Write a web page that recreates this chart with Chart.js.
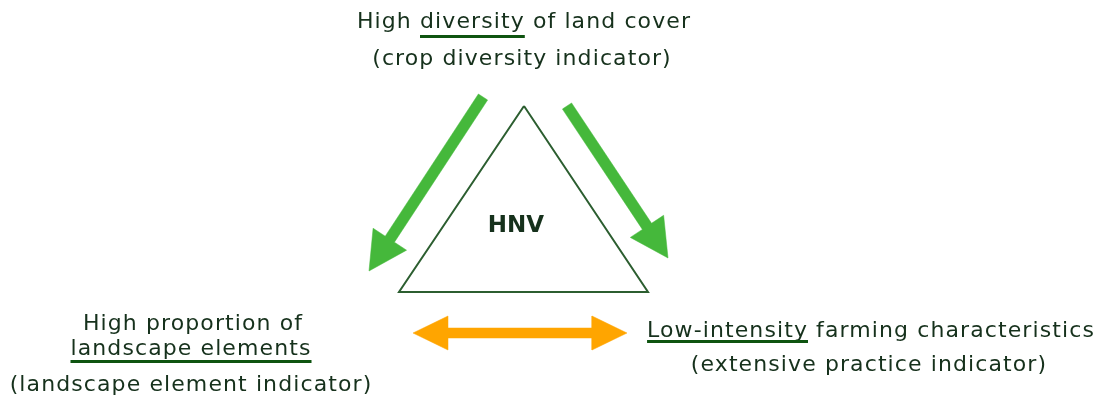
<!DOCTYPE html>
<html>
<head>
<meta charset="utf-8">
<script src="https://cdn.jsdelivr.net/npm/chart.js@4.4.0/dist/chart.umd.min.js"></script>
<style>
  html, body { margin: 0; padding: 0; background: #ffffff; }
  #wrap { width: 1102px; height: 400px; position: relative; }
</style>
</head>
<body>
<div id="wrap"><canvas id="c"></canvas></div>
<script>
// ---- data (diagram geometry) ----
const triangleX = [524, 399, 648, 524];
const triangleY = [106, 292, 292, 106];
const greenArrowTailX = [483, 567];
const greenArrowTailY = [97, 106];
const greenArrowTipX = [369, 668];
const greenArrowTipY = [271, 258];
const orangeArrowX = [413, 627];
const orangeArrowY = [333, 333];
const topLines = ['High diversity of land cover', '(crop diversity indicator)'];
const leftLines = ['High proportion of', 'landscape elements', '(landscape element indicator)'];
const rightLines = ['Low-intensity farming characteristics', '(extensive practice indicator)'];
const topUnderline = ['diversity', null];
const leftUnderline = [null, 'landscape elements', null];
const rightUnderline = ['Low-intensity', null];
const centerLabel = 'HNV';

// ---- helpers ----
function arrowPolygon(x0, y0, x1, y1, shaft, headW, headL, doubleHead) {
  const dx = x1 - x0, dy = y1 - y0;
  const len = Math.hypot(dx, dy);
  const ux = dx / len, uy = dy / len;
  const px = -uy, py = ux;
  const s = shaft / 2, h = headW / 2;
  const pts = [];
  const P = (t, o) => ({ x: x0 + ux * t + px * o, y: y0 + uy * t + py * o });
  if (doubleHead) {
    pts.push(P(0, 0), P(headL, h), P(headL, s), P(len - headL, s), P(len - headL, h), P(len, 0),
             P(len - headL, -h), P(len - headL, -s), P(headL, -s), P(headL, -h), P(0, 0));
  } else {
    pts.push(P(0, s), P(len - headL, s), P(len - headL, h), P(len, 0),
             P(len - headL, -h), P(len - headL, -s), P(0, -s), P(0, s));
  }
  return pts;
}

const green = '#45b83b';
const orange = '#ffa500';
const lineGreen = '#2c5e30';
const textColor = '#16311c';
const ulColor = '#0e5410';

const datasets = [];
datasets.push({
  label: 'triangle',
  data: triangleX.map((x, i) => ({ x: x, y: triangleY[i] })),
  borderColor: lineGreen, borderWidth: 2, pointRadius: 0, fill: false, tension: 0,
  borderJoinStyle: 'miter'
});
for (let i = 0; i < greenArrowTailX.length; i++) {
  datasets.push({
    label: 'green' + i,
    data: arrowPolygon(greenArrowTailX[i], greenArrowTailY[i], greenArrowTipX[i], greenArrowTipY[i], 11, 40, 38, false),
    borderColor: green, borderWidth: 0.5, backgroundColor: green, pointRadius: 0, fill: 'shape', tension: 0
  });
}
datasets.push({
  label: 'orange',
  data: arrowPolygon(orangeArrowX[0], orangeArrowY[0], orangeArrowX[1], orangeArrowY[1], 10, 34, 35, true),
  borderColor: orange, borderWidth: 0.5, backgroundColor: orange, pointRadius: 0, fill: 'shape', tension: 0
});

const textPlugin = {
  id: 'texts',
  afterDatasetsDraw(chart) {
    const ctx = chart.ctx;
    const xs = chart.scales.x, ys = chart.scales.y;
    const font = '22px "DejaVu Sans", Verdana, sans-serif';
    function drawLine(str, word, cx, by, ulOff) {
      const px = xs.getPixelForValue(cx), py = ys.getPixelForValue(by);
      ctx.save();
      ctx.font = font;
      if ('letterSpacing' in ctx) ctx.letterSpacing = '1.1px';
      ctx.fillStyle = textColor;
      ctx.textBaseline = 'alphabetic';
      const w = ctx.measureText(str).width;
      const left = px - w / 2;
      ctx.textAlign = 'left';
      ctx.fillText(str, left, py);
      if (word) {
        const idx = str.indexOf(word);
        const pre = ctx.measureText(str.slice(0, idx)).width;
        const ww = ctx.measureText(word).width;
        ctx.fillStyle = ulColor;
        ctx.fillRect(left + pre, py + ulOff, ww, 3);
      }
      ctx.restore();
    }
    drawLine(topLines[0], topUnderline[0], 524, 28, 7);
    drawLine(topLines[1], topUnderline[1], 522, 65, 6);
    drawLine(leftLines[0], leftUnderline[0], 193, 330, 6);
    drawLine(leftLines[1], leftUnderline[1], 191, 355, 5);
    drawLine(leftLines[2], leftUnderline[2], 191, 391, 6);
    drawLine(rightLines[0], rightUnderline[0], 871, 337, 3);
    drawLine(rightLines[1], rightUnderline[1], 869, 371, 6);
    ctx.save();
    ctx.font = 'bold 23px "DejaVu Sans", Verdana, sans-serif';
    ctx.fillStyle = textColor;
    ctx.textAlign = 'center';
    ctx.textBaseline = 'alphabetic';
    ctx.fillText(centerLabel, xs.getPixelForValue(516), ys.getPixelForValue(232));
    ctx.restore();
  }
};

new Chart(document.getElementById('c'), {
  type: 'line',
  data: { datasets: datasets },
  options: {
    responsive: true,
    maintainAspectRatio: false,
    animation: false,
    layout: { padding: 0 },
    plugins: { legend: { display: false }, tooltip: { enabled: false } },
    scales: {
      x: { type: 'linear', min: 0, max: 1102, display: false },
      y: { type: 'linear', min: 0, max: 400, reverse: true, display: false }
    }
  },
  plugins: [textPlugin]
});
</script>
</body>
</html>
